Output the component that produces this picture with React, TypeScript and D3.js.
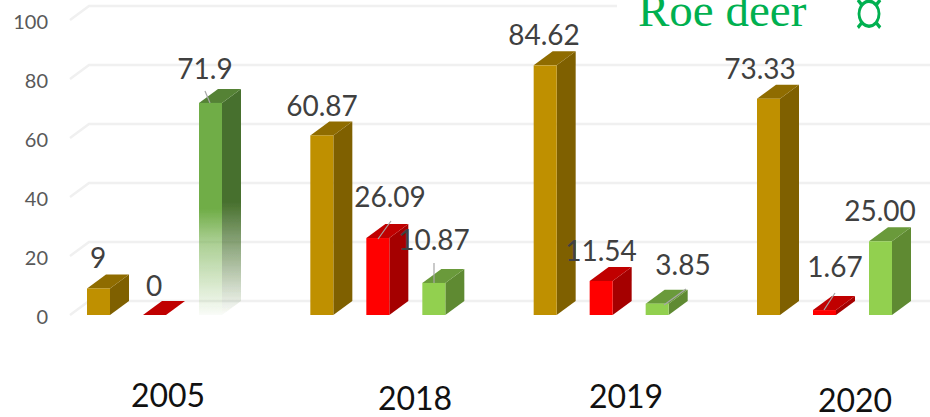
import React from "react";
import * as d3 from "d3";

const categories = ["2005", "2018", "2019", "2020"];
const seriesKeys = ["gold", "red", "green"];
const goldValues = [9, 60.87, 84.62, 73.33];
const redValues = [0, 26.09, 11.54, 1.67];
const greenValues = [71.9, 10.87, 3.85, 25.0];
const goldLabels = ["9", "60.87", "84.62", "73.33"];
const redLabels = ["0", "26.09", "11.54", "1.67"];
const greenLabels = ["71.9", "10.87", "3.85", "25.00"];
const yTicks = [0, 20, 40, 60, 80, 100];

const W = 930, H = 417;
const DX = 19, DY = -14, BAR_W = 23;
const y = d3.scaleLinear().domain([0, 100]).range([315, 20]);
const xGroup = d3.scalePoint().domain(categories).range([87, 757]);
const xSeries = d3.scalePoint().domain(seriesKeys).range([0, 112]);

const palettes: Record<string, { front: string; side: string; top: string }> = {
  gold: { front: "#BF9000", side: "#7F6000", top: "#8F6C00" },
  red: { front: "#FF0000", side: "#A50000", top: "#C00000" },
  green: { front: "#92D050", side: "#5E8A33", top: "#6A9A3A" },
};
const fadedPalette = { front: "#70AD47", side: "#47702D", top: "#548235" };

// label anchor [x, baseline], one per category
const goldLabelPos = [[98, 268], [322, 116], [544, 45], [760, 79]];
const redLabelPos = [[154, 296], [390, 207], [601, 261], [835, 277]];
const greenLabelPos = [[205, 79], [434, 250], [683, 275], [880, 221]];
const catLabelPos = [[168, 407], [415, 410], [626, 408], [855, 412]];
// leader lines [x1, y1, x2, y2]
const leaders = [
  [205, 91, 210, 103],
  [391, 221, 378, 239],
  [434, 263, 434, 283],
  [686, 289, 664, 305],
  [835, 293, 824, 310],
];

const valuesBySeries: Record<string, number[]> = { gold: goldValues, red: redValues, green: greenValues };
const labelsBySeries: Record<string, string[]> = { gold: goldLabels, red: redLabels, green: greenLabels };
const posBySeries: Record<string, number[][]> = { gold: goldLabelPos, red: redLabelPos, green: greenLabelPos };

const SANS = "Lato, 'Open Sans', sans-serif";

function Bar({ x, v, fill, faded }: { x: number; v: number; fill: { front: string; side: string; top: string }; faded?: boolean }) {
  const yTop = y(v);
  const y0 = y(0);
  const side = `M${x + BAR_W},${yTop}L${x + BAR_W + DX},${yTop + DY}L${x + BAR_W + DX},${y0 + DY}L${x + BAR_W},${y0}Z`;
  const top = `M${x},${yTop}L${x + DX},${yTop + DY}L${x + BAR_W + DX},${yTop + DY}L${x + BAR_W},${yTop}Z`;
  return (
    <g filter="url(#soft)">
      <path d={side} fill={faded ? "url(#fadeSide)" : fill.side} />
      <path d={top} fill={fill.top} />
      <rect x={x} y={yTop} width={BAR_W} height={y0 - yTop} fill={faded ? "url(#fadeFront)" : fill.front} />
    </g>
  );
}

export default function App() {
  return (
    <svg width={W} height={H} style={{ position: "absolute", left: 0, top: 0, background: "#fff" }}>
      <defs>
        <filter id="soft" x="-10%" y="-10%" width="120%" height="120%">
          <feGaussianBlur stdDeviation="0.4" />
        </filter>
        <linearGradient id="fadeFront" x1="0" y1="0" x2="0" y2="1">
          <stop offset="0.5" stopColor={fadedPalette.front} stopOpacity={1} />
          <stop offset="0.65" stopColor={fadedPalette.front} stopOpacity={0.6} />
          <stop offset="1" stopColor={fadedPalette.front} stopOpacity={0.04} />
        </linearGradient>
        <linearGradient id="fadeSide" x1="0" y1="0" x2="0" y2="1">
          <stop offset="0.5" stopColor={fadedPalette.side} stopOpacity={1} />
          <stop offset="0.65" stopColor={fadedPalette.side} stopOpacity={0.7} />
          <stop offset="1" stopColor={fadedPalette.side} stopOpacity={0.02} />
        </linearGradient>
      </defs>

      {yTicks.map((t) => (
        <g key={t}>
          <path
            d={`M70,${y(t)}L${70 + DX},${y(t) + DY}L${W},${y(t) + DY}`}
            fill="none"
            stroke="#F0F0F0"
            strokeWidth={2.5}
          />
          <text x={48} y={y(t) + 9} textAnchor="end" fontFamily={SANS} fontSize={20} fill="#595959">
            {t}
          </text>
        </g>
      ))}

      <rect x={617} y={0} width={313} height={40} fill="#fff" />
      <text x={638} y={26} fontFamily="'Liberation Serif', serif" fontSize={47} fill="#00B050">
        Roe deer
      </text>
      <text
        transform="translate(869,38) scale(1,1.25)"
        textAnchor="middle"
        fontFamily="'Liberation Serif', serif"
        fontSize={60}
        fill="#00B050"
      >
        ¤
      </text>

      {categories.map((c, i) =>
        seriesKeys.map((s) => (
          <Bar
            key={c + s}
            x={(xGroup(c) as number) + (xSeries(s) as number)}
            v={valuesBySeries[s][i]}
            fill={i === 0 && s === "green" ? fadedPalette : palettes[s]}
            faded={i === 0 && s === "green"}
          />
        ))
      )}

      {leaders.map((l, i) => (
        <line key={i} x1={l[0]} y1={l[1]} x2={l[2]} y2={l[3]} stroke="#A6A6A6" strokeWidth={1.2} />
      ))}

      {categories.map((c, i) =>
        seriesKeys.map((s) => (
          <text
            key={c + s}
            x={posBySeries[s][i][0]}
            y={posBySeries[s][i][1]}
            textAnchor="middle"
            fontFamily={SANS}
            fontSize={28}
            fill="#404040"
          >
            {labelsBySeries[s][i]}
          </text>
        ))
      )}

      {categories.map((c, i) => (
        <text key={c} x={catLabelPos[i][0]} y={catLabelPos[i][1]} textAnchor="middle" fontFamily={SANS} fontSize={32} fill="#111">
          {c}
        </text>
      ))}
    </svg>
  );
}
